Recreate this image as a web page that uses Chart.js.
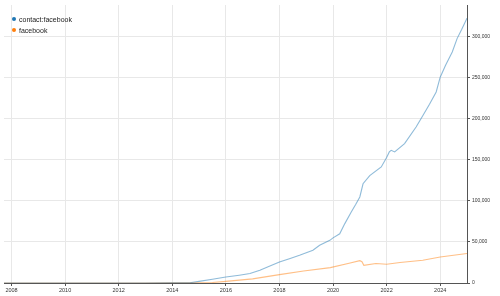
<!DOCTYPE html>
<html>
<head>
<meta charset="utf-8">
<script src="https://cdn.jsdelivr.net/npm/chart.js@4"></script>
<style>
  html,body{margin:0;padding:0;background:#fff;}
  #wrap{position:relative;width:500px;height:296px;}
  #legend{position:absolute;left:12px;top:14px;font-family:"Liberation Sans",Arial,sans-serif;font-size:7px;color:#222;line-height:11px;}
  #legend .d{display:inline-block;width:4px;height:4px;border-radius:50%;margin-right:3px;vertical-align:middle;position:relative;top:-1px;}
</style>
</head>
<body>
<div id="wrap">
<canvas id="c" width="500" height="296"></canvas>
<div id="legend"></div>
</div>
<script>
const seriesNames = ["contact:facebook", "facebook"];
const seriesColors = ["#1f77b4", "#ff7f0e"];
const lineColors = ["rgba(31,119,180,0.5)", "rgba(255,127,14,0.5)"];
const xTickYears = [2008, 2010, 2012, 2014, 2016, 2018, 2020, 2022, 2024];
const yTickValues = [0, 50000, 100000, 150000, 200000, 250000, 300000];

const contactYears = [2007.72, 2010, 2012, 2013, 2014, 2014.66, 2015, 2015.5, 2016, 2016.5, 2016.9, 2017.27, 2017.6, 2018, 2018.4, 2018.75, 2019.25, 2019.5, 2019.88, 2020, 2020.25, 2020.44, 2020.68, 2020.85, 2021.0, 2021.12, 2021.37, 2021.8, 2022.0, 2022.1, 2022.17, 2022.3, 2022.67, 2023.1, 2023.36, 2023.6, 2023.85, 2024.0, 2024.2, 2024.45, 2024.63, 2024.8, 2025.0];
const contactValues = [0, 0, 0, 0, 100, 300, 2000, 4500, 7300, 9500, 11500, 15500, 20000, 25600, 30000, 33800, 39900, 46000, 52000, 55000, 60000, 72400, 86600, 96000, 104900, 121000, 131000, 141500, 153000, 159800, 161800, 159800, 170000, 190300, 204500, 218000, 233000, 251000, 265500, 281700, 298000, 309000, 323000];

const fbYears = [2007.72, 2013, 2014, 2015, 2015.5, 2016, 2017, 2018, 2018.9, 2019.9, 2020.6, 2021, 2021.08, 2021.15, 2021.6, 2022, 2022.5, 2023.35, 2024, 2025.0];
const fbValues = [0, 0, 100, 300, 700, 2000, 5000, 10200, 14600, 18800, 24000, 27200, 26000, 21600, 23700, 22800, 25000, 27700, 31700, 35900];

function pts(xs, ys){ return xs.map((x,i)=>({x:x, y:ys[i]})); }

const leg = document.getElementById('legend');
seriesNames.forEach((n,i)=>{
  const row = document.createElement('div');
  row.innerHTML = '<span class="d" style="background:'+seriesColors[i]+'"></span>' + n;
  leg.appendChild(row);
});

const xFont = {family: '"Liberation Sans", Arial, sans-serif', size: 5.5};
const yFont = {family: '"Liberation Sans", Arial, sans-serif', size: 5};
new Chart(document.getElementById('c'), {
  type: 'line',
  data: {
    datasets: [
      {label: seriesNames[0], data: pts(contactYears, contactValues), borderColor: lineColors[0], borderWidth: 1.1, pointRadius: 0, tension: 0, fill: false},
      {label: seriesNames[1], data: pts(fbYears, fbValues), borderColor: lineColors[1], borderWidth: 1.1, pointRadius: 0, tension: 0, fill: false}
    ]
  },
  options: {
    responsive: false,
    animation: false,
    layout: {padding: {left: 4, top: 5, right: 0, bottom: 0}},
    plugins: {legend: {display: false}, tooltip: {enabled: false}},
    scales: {
      x: {
        type: 'linear', min: 2007.72, max: 2025.0,
        afterBuildTicks: (s)=>{ s.ticks = xTickYears.map(v=>({value:v})); },
        afterFit: (s)=>{ s.height = 13; },
        grid: {color: '#e8e8e8', tickColor: '#555', tickLength: 3, drawTicks: true},
        border: {color: '#555'},
        ticks: {font: xFont, color: '#333', padding: 1, maxRotation: 0, callback: v=>String(v)}
      },
      y: {
        position: 'right', min: 0, max: 339000,
        afterBuildTicks: (s)=>{ s.ticks = yTickValues.map(v=>({value:v})); },
        afterFit: (s)=>{ s.width = 33; },
        grid: {color: '#e8e8e8', tickColor: '#555', tickLength: 3},
        border: {color: '#555'},
        ticks: {font: yFont, color: '#333', padding: 2,
          callback: v=>v.toLocaleString('en-US')}
      }
    }
  }
});
</script>
</body>
</html>
